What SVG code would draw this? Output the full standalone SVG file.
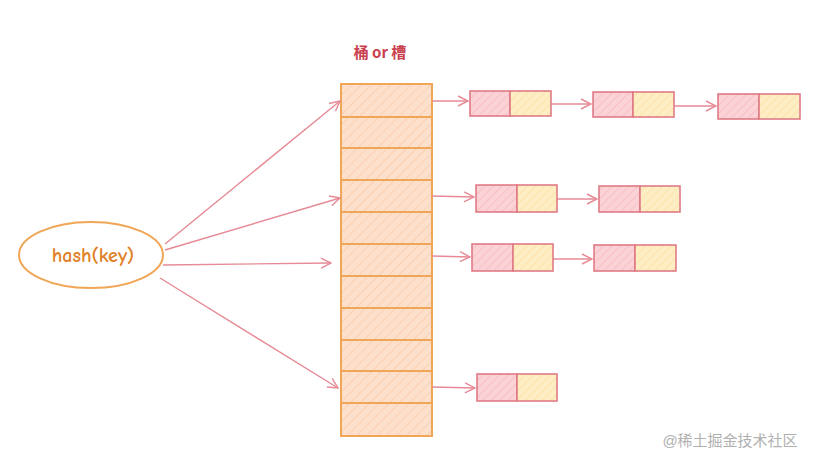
<svg xmlns="http://www.w3.org/2000/svg" width="824" height="464" viewBox="0 0 824 464">
<style>
.slot{fill:url(#hO);stroke:#f0a656;stroke-width:2}
.pk{fill:url(#hP);stroke:#e07a86;stroke-width:1.6}
.yl{fill:url(#hY);stroke:#e07a86;stroke-width:1.6}
.ar{fill:none;stroke:#e68a96;stroke-width:1.4;marker-end:url(#ah)}
.t{font-family:"Comic Neue","Lato","Liberation Sans",sans-serif}
</style>
<defs>
<pattern id="hO" width="7" height="7" patternUnits="userSpaceOnUse" patternTransform="rotate(45)">
<rect width="7" height="7" fill="#fde0cb"/><line x1="0" y1="0" x2="0" y2="7" stroke="#fbd0b2" stroke-width="2"/>
</pattern>
<pattern id="hP" width="6" height="6" patternUnits="userSpaceOnUse" patternTransform="rotate(45)">
<rect width="6" height="6" fill="#fbd2d6"/><line x1="0" y1="0" x2="0" y2="6" stroke="#f7bcc2" stroke-width="1.6"/>
</pattern>
<pattern id="hY" width="6" height="6" patternUnits="userSpaceOnUse" patternTransform="rotate(45)">
<rect width="6" height="6" fill="#feeec4"/><line x1="0" y1="0" x2="0" y2="6" stroke="#fce0a4" stroke-width="1.6"/>
</pattern>
<marker id="ah" viewBox="0 0 12 12" refX="11" refY="6" markerWidth="12" markerHeight="12" markerUnits="userSpaceOnUse" orient="auto">
<path d="M1,1 L11,6 L1,11" fill="none" stroke="#e68a96" stroke-width="1.4"/>
</marker>
</defs>
<rect width="824" height="464" fill="#fff"/>
<text x="380" y="58" font-size="15" font-weight="bold" fill="#c9404e" text-anchor="middle" font-family="'Noto Sans CJK SC',sans-serif">桶 or 槽</text>
<g id="hash">
<ellipse cx="91" cy="255" rx="72" ry="33" fill="#fff" stroke="#f0a656" stroke-width="2"/>
<text x="93" y="262" class="t" font-size="20" font-weight="bold" fill="#e0822a" text-anchor="middle">hash(key)</text>
</g>
<g id="buckets">
<rect class="slot" x="341" y="84" width="91" height="33"/>
<rect class="slot" x="341" y="117" width="91" height="31"/>
<rect class="slot" x="341" y="148" width="91" height="32"/>
<rect class="slot" x="341" y="180" width="91" height="32"/>
<rect class="slot" x="341" y="212" width="91" height="32"/>
<rect class="slot" x="341" y="244" width="91" height="32"/>
<rect class="slot" x="341" y="276" width="91" height="32"/>
<rect class="slot" x="341" y="308" width="91" height="32"/>
<rect class="slot" x="341" y="340" width="91" height="31"/>
<rect class="slot" x="341" y="371" width="91" height="32"/>
<rect class="slot" x="341" y="403" width="91" height="33"/>
</g>
<g id="n1a"><rect class="pk" x="470" y="91" width="40" height="25"/><rect class="yl" x="510" y="91" width="41" height="25"/></g>
<g id="n1b"><rect class="pk" x="593" y="92" width="40" height="25"/><rect class="yl" x="633" y="92" width="41" height="25"/></g>
<g id="n1c"><rect class="pk" x="718" y="94" width="41" height="25"/><rect class="yl" x="759" y="94" width="41" height="25"/></g>
<g id="n4a"><rect class="pk" x="476" y="185" width="41" height="27"/><rect class="yl" x="517" y="185" width="40" height="27"/></g>
<g id="n4b"><rect class="pk" x="599" y="186" width="41" height="26"/><rect class="yl" x="640" y="186" width="40" height="26"/></g>
<g id="n6a"><rect class="pk" x="472" y="244" width="41" height="27"/><rect class="yl" x="513" y="244" width="40" height="27"/></g>
<g id="n6b"><rect class="pk" x="594" y="245" width="41" height="26"/><rect class="yl" x="635" y="245" width="41" height="26"/></g>
<g id="n10a"><rect class="pk" x="477" y="374" width="40" height="27"/><rect class="yl" x="517" y="374" width="40" height="27"/></g>
<g id="connectors">
<path class="ar" d="M165,244 L340,101"/>
<path class="ar" d="M165,250 L340,198"/>
<path class="ar" d="M163,265 L331,263"/>
<path class="ar" d="M160,278 L338,388"/>
<path class="ar" d="M432,101 L468,101"/>
<path class="ar" d="M551,104 L591,104"/>
<path class="ar" d="M674,106 L716,106"/>
<path class="ar" d="M432,196 L474,197"/>
<path class="ar" d="M557,199 L597,199"/>
<path class="ar" d="M432,256 L470,257"/>
<path class="ar" d="M553,259 L592,259"/>
<path class="ar" d="M432,387 L475,388"/>
</g>
<text x="730" y="446" font-size="15" fill="#b0b0b0" text-anchor="middle" font-family="'Liberation Sans','Noto Sans CJK SC',sans-serif">@稀土掘金技术社区</text>
</svg>
